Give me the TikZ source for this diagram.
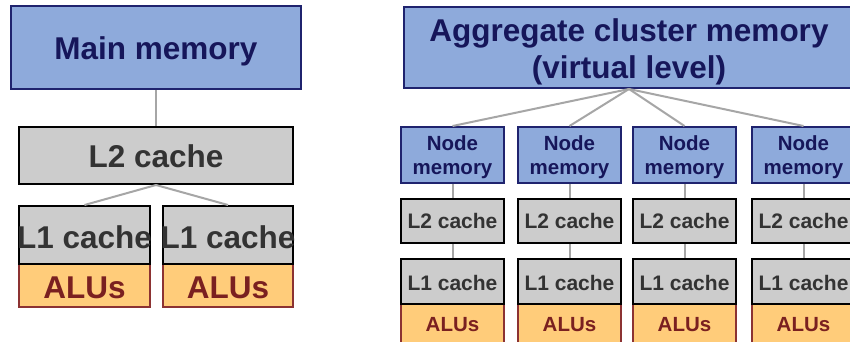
\documentclass[tikz,border=0pt]{standalone}
\usepackage{fontspec}
\setmainfont{Liberation Sans}
\definecolor{memfill}{RGB}{142,170,219}
\definecolor{memdraw}{RGB}{31,35,110}
\definecolor{memtext}{RGB}{22,22,90}
\definecolor{cachefill}{RGB}{204,204,204}
\definecolor{cachetext}{RGB}{51,51,51}
\definecolor{alufill}{RGB}{255,204,122}
\definecolor{aludraw}{RGB}{140,50,50}
\definecolor{alutext}{RGB}{122,32,32}
\definecolor{linkgray}{RGB}{166,166,166}
\tikzset{
  box/.style={rectangle, inner sep=0pt, line width=2pt},
  membox/.style={box, fill=memfill, draw=memdraw},
  cachebox/.style={box, fill=cachefill, draw=black},
  alubox/.style={box, fill=alufill, draw=aludraw},
  memtxt/.style={text=memtext, inner sep=0pt, align=center},
  cachetxt/.style={text=cachetext, inner sep=0pt},
  alutxt/.style={text=alutext, inner sep=0pt},
  bigfont/.style={font=\fontsize{31.5}{37}\selectfont\bfseries},
  smallfont/.style={font=\fontsize{20.5}{24.5}\selectfont\bfseries},
  midfont/.style={font=\fontsize{21}{24}\selectfont\bfseries},
  link/.style={draw=linkgray, line width=2pt},
}
\begin{document}
\begin{tikzpicture}[x=1pt,y=-1pt]
\useasboundingbox (0,0) rectangle (850,341);
\clip (0,0) rectangle (850,341);
\fill[white] (0,0) rectangle (850,341);

% ---------- left hierarchy ----------
\node[membox, minimum width=290, minimum height=83] (main) at (156,47.5) {};
\node[memtxt, bigfont, yshift=-4pt] (maint) at (main.center) {Main memory};
\node[cachebox, minimum width=274, minimum height=57] (l2) at (156,155.5) {};
\node[cachetxt, bigfont, yshift=-1pt] (l2t) at (l2.center) {L2 cache};
\node[alubox, minimum width=131, minimum height=43] (alua) at (84.5,285.5) {};
\node[alubox, minimum width=130, minimum height=43] (alub) at (228,285.5) {};
\node[cachebox, minimum width=131, minimum height=58] (l1a) at (84.5,235) {};
\node[cachebox, minimum width=130, minimum height=58] (l1b) at (228,235) {};
\node[cachetxt, bigfont, yshift=-2pt] (l1at) at (l1a.center) {L1 cache};
\node[cachetxt, bigfont, yshift=-2pt] (l1bt) at (l1b.center) {L1 cache};
\node[alutxt, bigfont, yshift=-2pt] (aluat) at (alua.center) {ALUs};
\node[alutxt, bigfont, yshift=-2pt] (alubt) at (alub.center) {ALUs};

\draw[link] (main.south) -- (l2.north);
\draw[link] (l2.south) -- (l1a.north);
\draw[link] (l2.south) -- (l1b.north);

% ---------- right hierarchy ----------
\node[membox, minimum width=450, minimum height=81] (agg) at (629,47.5) {};
\node[memtxt, bigfont, yshift=-4pt] (aggt) at (agg.center) {Aggregate cluster memory\\(virtual level)};

\foreach \i/\x in {1/452.5, 2/569.5, 3/684.5, 4/803.5} {
  \node[membox, minimum width=103, minimum height=56] (nm\i) at (\x,155) {};
  \node[memtxt, smallfont, yshift=-2pt] (nmt\i) at (nm\i.center) {Node\\memory};
  \node[cachebox, minimum width=103, minimum height=44] (lb\i) at (\x,221) {};
  \node[cachetxt, midfont] (lbt\i) at (lb\i.center) {L2 cache};
  \node[alubox, minimum width=103, minimum height=44] (al\i) at (\x,326) {};
  \node[alutxt, smallfont, yshift=1pt] (alt\i) at (al\i.center) {ALUs};
  \node[cachebox, minimum width=103, minimum height=45] (la\i) at (\x,281.5) {};
  \node[cachetxt, midfont, yshift=-1pt] (lat\i) at (la\i.center) {L1 cache};
  \draw[link] (agg.south) -- (nm\i.north);
  \draw[link] (nm\i.south) -- (lb\i.north);
  \draw[link] (lb\i.south) -- (la\i.north);
}
\end{tikzpicture}
\end{document}
